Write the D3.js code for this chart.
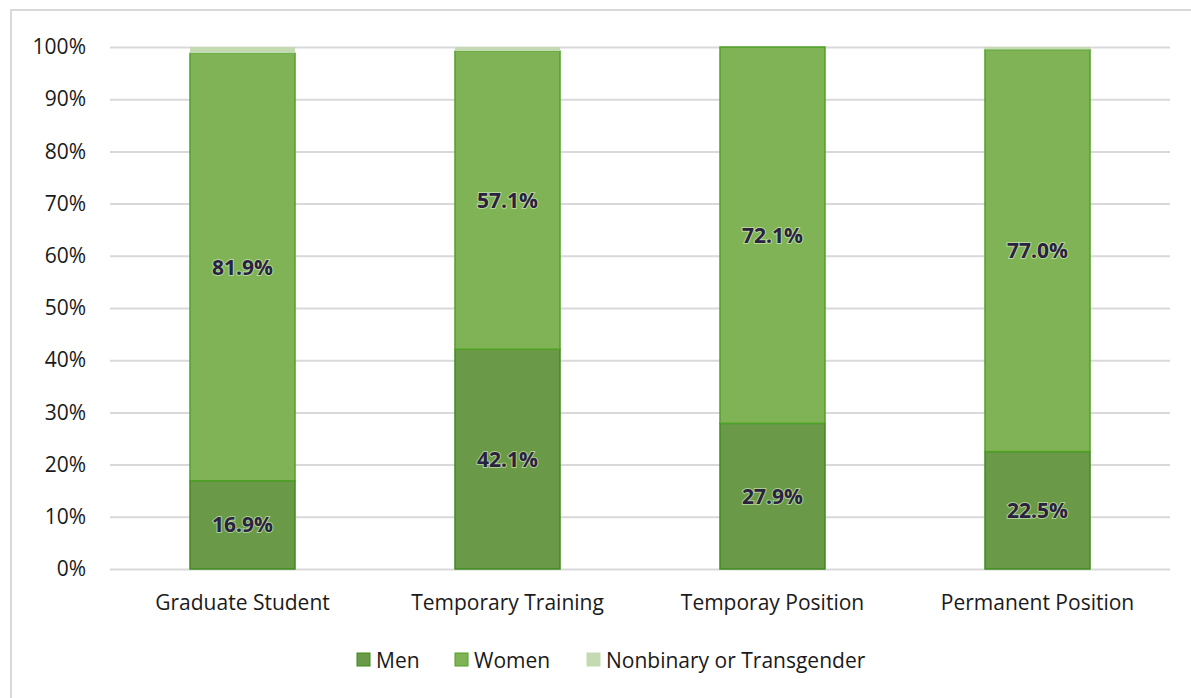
<!DOCTYPE html>
<html>
<head>
<meta charset="utf-8">
<script src="https://cdn.jsdelivr.net/npm/d3@7"></script>
<style>
  body { margin: 0; background: #fff; }
  svg text { font-family: "Open Sans", "Noto Sans", sans-serif; }
</style>
</head>
<body>
<script>
// categories and series (percent)
var categories = ["Graduate Student", "Temporary Training", "Temporay Position", "Permanent Position"];
var seriesNames = ["Men", "Women", "Nonbinary or Transgender"];
var men = [16.9, 42.1, 27.9, 22.5];
var women = [81.9, 57.1, 72.1, 77.0];
var nonbinary = [1.2, 0.8, 0, 0.5];
var yTicks = [0, 10, 20, 30, 40, 50, 60, 70, 80, 90, 100];

var colours = ["#6a9a47", "#7fb356", "#c3dab3"];
var strokes = ["#3f8a1e", "#4fa226", "#c3dab3"];

var w = 1191, h = 698;
var plotLeft = 110, plotRight = 1170, plotTop = 47, plotBottom = 569;

var svg = d3.select("body").append("svg")
    .attr("width", w)
    .attr("height", h);

// frame
svg.append("path")
    .attr("d", "M11," + h + "V10H" + w)
    .attr("fill", "none")
    .attr("stroke", "#d9d9d9")
    .attr("stroke-width", 2);

var x = d3.scaleBand()
    .domain(categories)
    .range([plotLeft, plotRight])
    .paddingInner(0.6)
    .paddingOuter(0.3);

var y = d3.scaleLinear()
    .domain([0, 100])
    .range([plotBottom, plotTop]);

// gridlines + y labels
var yAxis = d3.axisLeft(y)
    .tickValues(yTicks)
    .tickSize(-(plotRight - plotLeft))
    .tickPadding(24)
    .tickFormat(function(d) { return d + "%"; });

var gy = svg.append("g")
    .attr("transform", "translate(" + plotLeft + ",0)")
    .call(yAxis)
    .attr("font-family", null);
gy.select(".domain").remove();
gy.selectAll(".tick line").attr("stroke", "#d9d9d9").attr("stroke-width", 2);
gy.selectAll(".tick text")
    .attr("font-size", "21px")
    .attr("fill", "#1a1a1a");

// x labels
var xAxis = d3.axisBottom(x).tickSize(0).tickPadding(26);
var gx = svg.append("g")
    .attr("transform", "translate(0," + plotBottom + ")")
    .call(xAxis)
    .attr("font-family", null);
gx.select(".domain").remove();
gx.selectAll(".tick text")
    .attr("font-size", "21px")
    .attr("fill", "#1a1a1a");

// stacked data
var table = categories.map(function(c, i) {
    return { cat: c, Men: men[i], Women: women[i], "Nonbinary or Transgender": nonbinary[i] };
});
var stack = d3.stack().keys(seriesNames)(table);

var layers = svg.selectAll("g.layer")
    .data(stack)
    .enter()
    .append("g")
    .attr("class", "layer");

layers.selectAll("rect")
    .data(function(d, k) { return d.map(function(p) { return { p: p, k: k }; }); })
    .enter()
    .filter(function(d) { return d.p[1] - d.p[0] > 0; })
    .append("rect")
    .attr("x", function(d) { return x(d.p.data.cat) + 0.5; })
    .attr("width", x.bandwidth() - 1)
    .attr("y", function(d) { return y(d.p[1]); })
    .attr("height", function(d) { return y(d.p[0]) - y(d.p[1]); })
    .attr("fill", function(d) { return colours[d.k]; })
    .attr("stroke", function(d) { return strokes[d.k]; })
    .attr("stroke-width", function(d) { return d.k == 2 ? 0 : 1.5; });

// data labels for men and women
layers.filter(function(d, k) { return k < 2; })
    .selectAll("text")
    .data(function(d) { return d; })
    .enter()
    .append("text")
    .attr("x", function(d) { return x(d.data.cat) + x.bandwidth() / 2; })
    .attr("y", function(d) { return (y(d[0]) + y(d[1])) / 2; })
    .attr("dy", "0.36em")
    .attr("text-anchor", "middle")
    .attr("font-size", "21px")
    .attr("font-weight", "bold")
    .attr("fill", "#2b2140")
    .style("paint-order", "stroke")
    .attr("stroke", "rgba(220,240,200,0.6)")
    .attr("stroke-width", 2)
    .text(function(d) { return (d[1] - d[0]).toFixed(1) + "%"; });

// legend
var legX = [357, 455, 587];
var legend = svg.selectAll("g.legend")
    .data(seriesNames)
    .enter()
    .append("g")
    .attr("class", "legend")
    .attr("transform", function(d, i) { return "translate(" + legX[i] + ",653)"; });

legend.append("rect")
    .attr("width", 13)
    .attr("height", 13)
    .attr("fill", function(d, i) { return colours[i]; })
    .attr("stroke", function(d, i) { return strokes[i]; })
    .attr("stroke-width", 1);

legend.append("text")
    .attr("x", 19)
    .attr("y", 7)
    .attr("dy", "0.36em")
    .attr("font-size", "21px")
    .attr("fill", "#1a1a1a")
    .text(function(d) { return d; });
</script>
</body>
</html>
